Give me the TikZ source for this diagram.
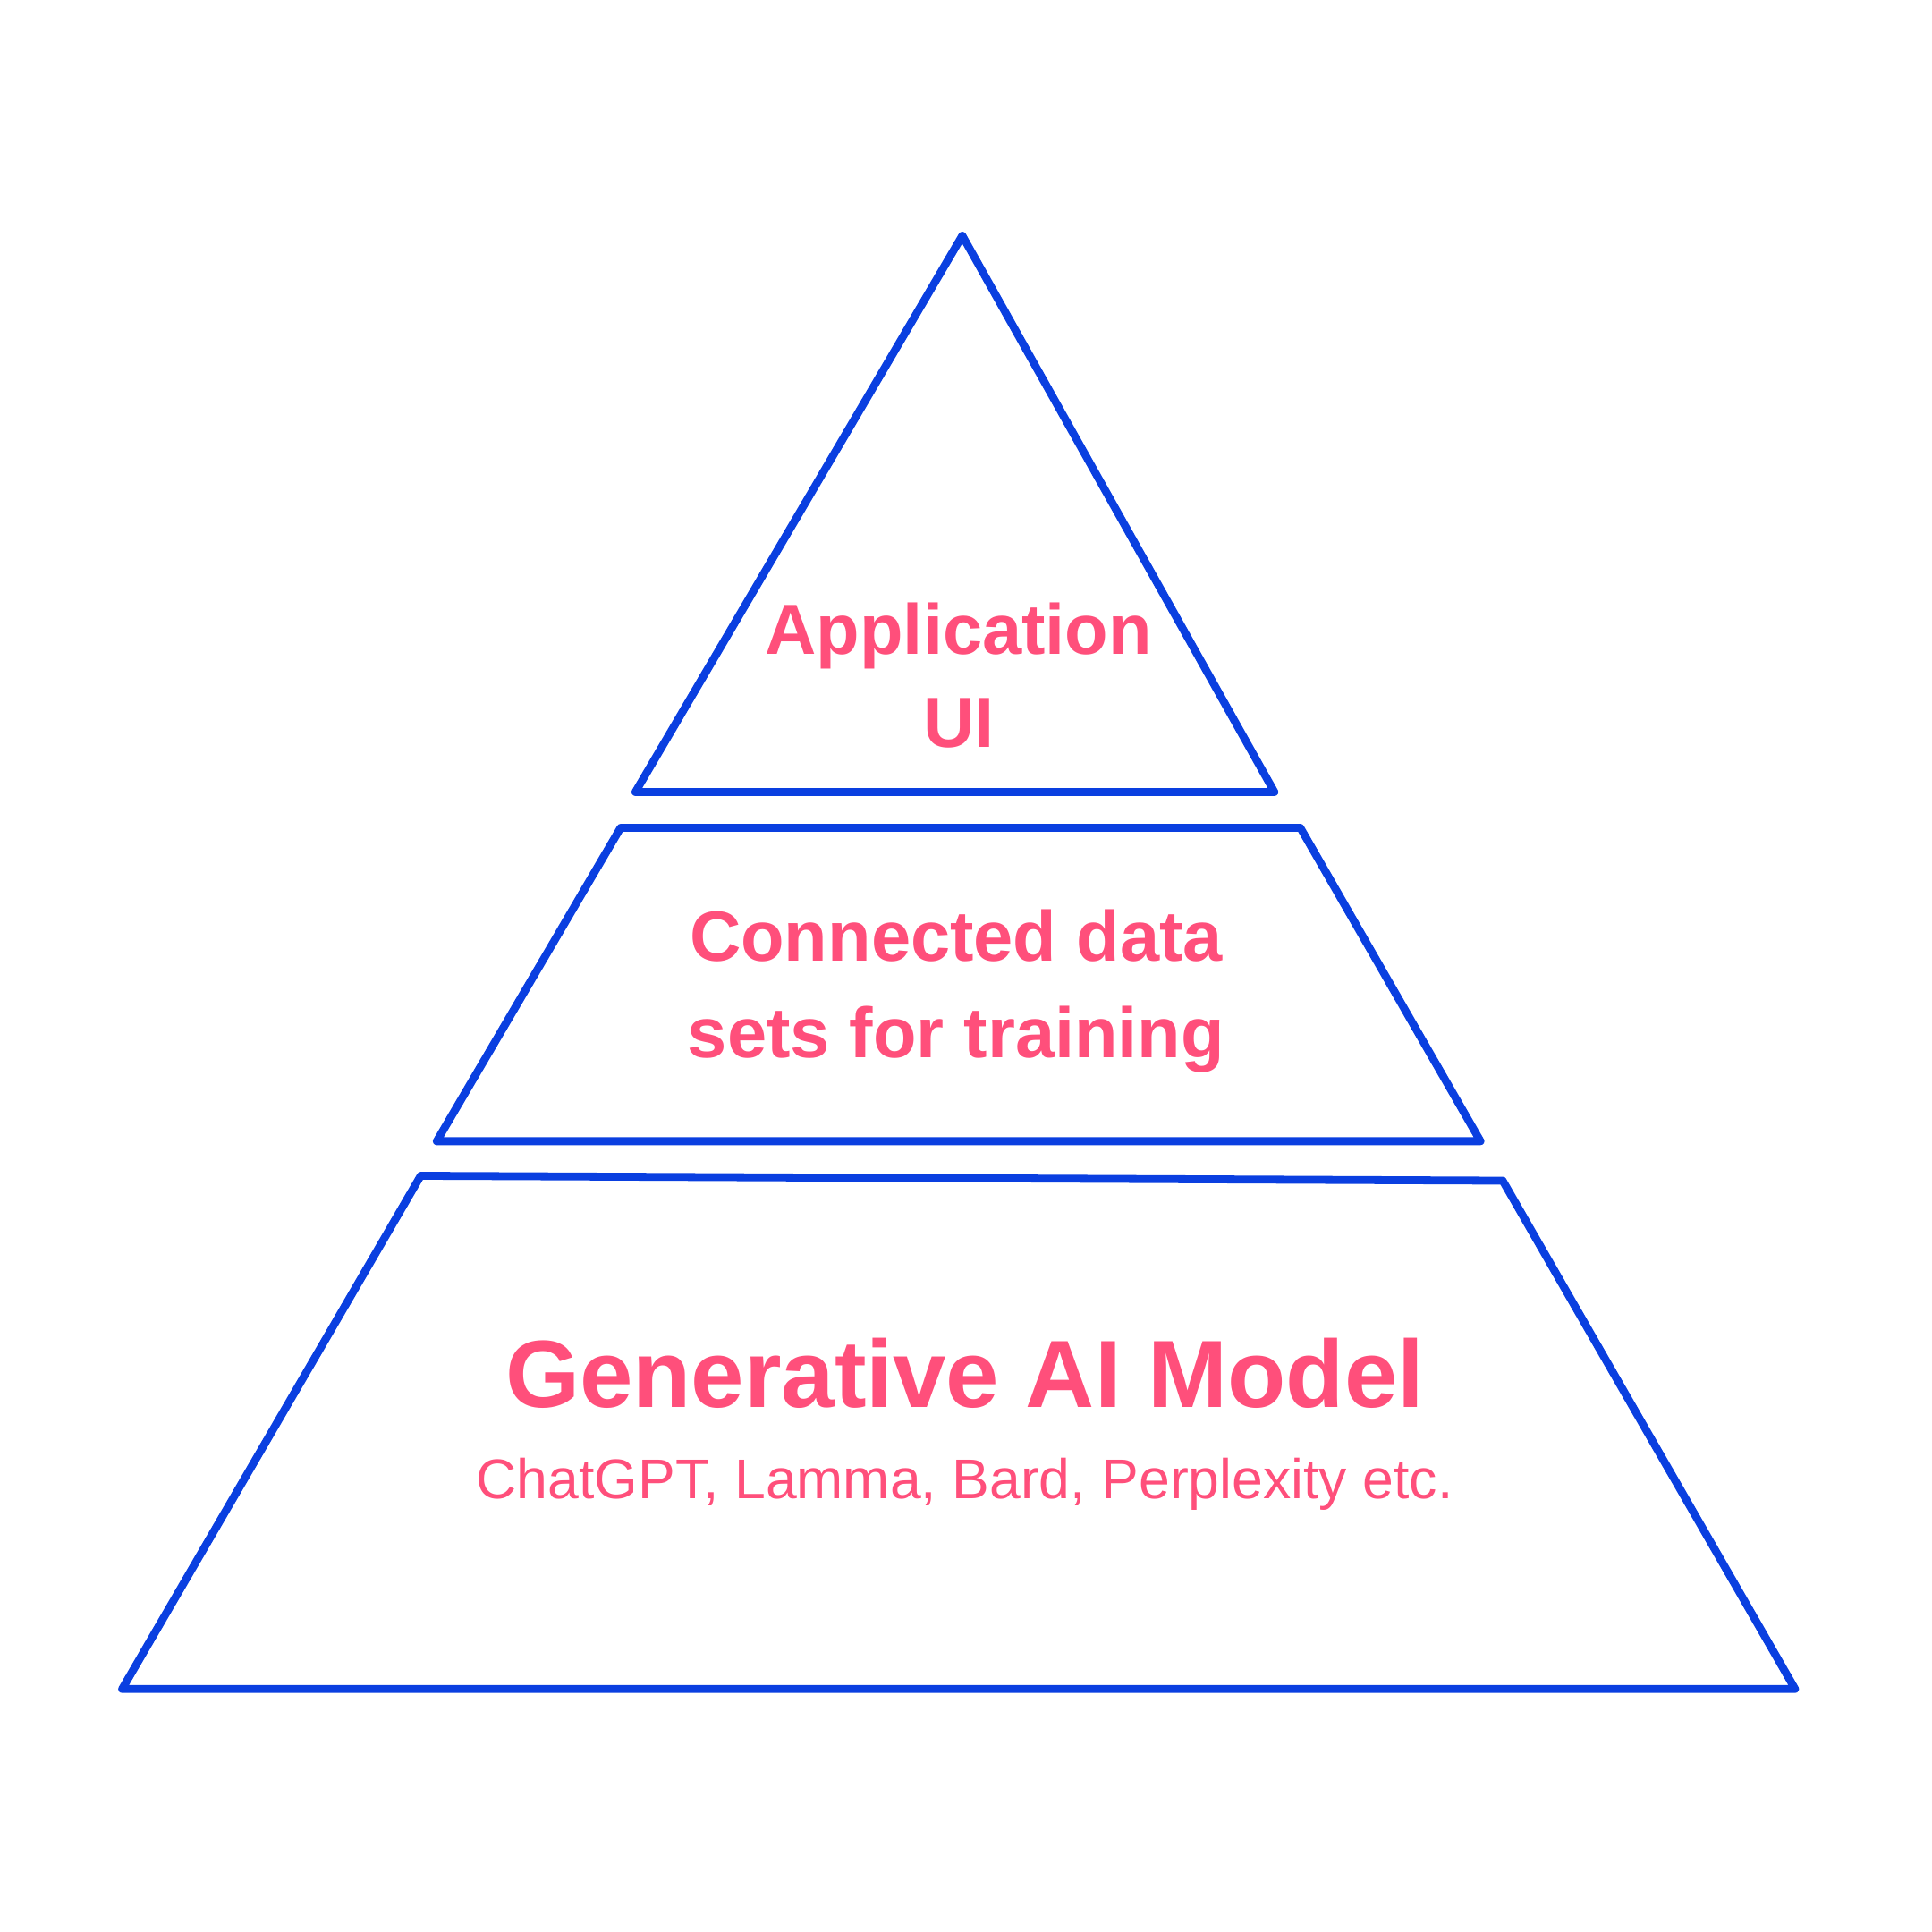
\documentclass[tikz,border=0pt]{standalone}
\usepackage{fontspec}
\setmainfont{Liberation Sans}
\definecolor{pyrblue}{HTML}{0A3FE0}
\definecolor{pyrpink}{HTML}{FF4F7B}
\begin{document}
\begin{tikzpicture}[x=0.013793cm,y=-0.013793cm,
  layer/.style={draw=pyrblue,line width=2.5pt,line join=round,line cap=round},
  lbl/.style={text=pyrpink,anchor=base,inner sep=0pt,font=\bfseries\fontsize{22.6}{27}\selectfont},
  big/.style={lbl,font=\bfseries\fontsize{30.4}{36}\selectfont},
  small/.style={lbl,font=\fontsize{17.8}{21}\selectfont}]
\useasboundingbox (0,0) rectangle (1566,1566);
\draw[layer] (780,191) -- (1033,642) -- (515,642) -- cycle;
\draw[layer] (503,671) -- (1054,671) -- (1200,925) -- (354,925) -- cycle;
\draw[layer] (341,953) -- (1218,957) -- (1455,1369) -- (99,1369) -- cycle;
\node[lbl] (app) at (777,530) {Application};
\node[lbl] (ui) at (777,606) {UI};
\node[lbl] (con) at (775,779) {Connected data};
\node[lbl] (sets) at (775,857) {sets for training};
\node[big] (gen) at (782,1141) {Generative AI Model};
\node[small] (ex) at (782,1215) {ChatGPT, Lamma, Bard, Perplexity etc.};
\end{tikzpicture}
\end{document}
